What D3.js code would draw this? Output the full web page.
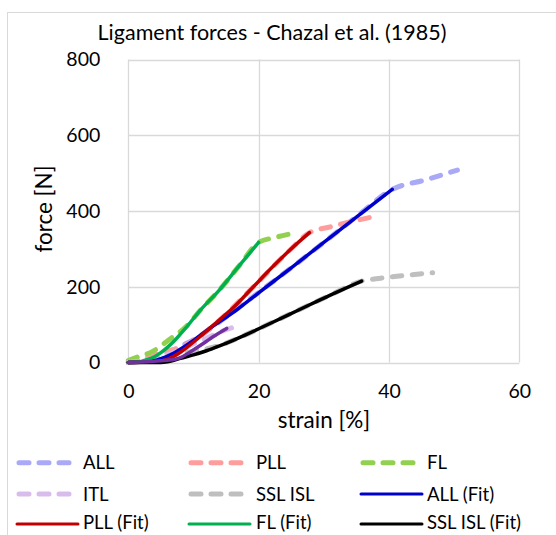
<!DOCTYPE html>
<html><head><meta charset="utf-8">
<script src="https://cdn.jsdelivr.net/npm/d3@7"></script>
<style>body{margin:0;background:#fff;}svg{display:block;font-family:Lato,"Open Sans",sans-serif;}</style>
</head><body>
<svg id="chart" width="556" height="535"></svg>
<script>
// ---- data ----
const title = "Ligament forces - Chazal et al. (1985)";
const xTicks = [0, 20, 40, 60];
const yTicks = [0, 200, 400, 600, 800];
const xLabel = "strain [%]";
const yLabel = "force [N]";

const ALL = [[0,0],[2,4],[4,12],[6,25],[8.4,46],[10,60],[15,120],[20,185],[25,250],[30,317],[35,385],[40.5,457],[45.8,483],[50.5,508]];
const PLL = [[0,0],[2,8],[4.4,22],[6,30],[8.4,43],[10,58],[14,112],[19.2,200],[24.8,297],[27.8,343],[31,358],[34,371],[37.6,385]];
const FL = [[0,5],[1.5,15],[3.6,28],[6.4,62],[9,97],[11,137],[14,192],[17,255],[20,317],[22.5,330],[24.7,339]];
const ITL = [[0,0],[3,6],[6,20],[8.5,37],[10.2,51],[12,64],[14,80],[16.7,96]];
const SSL_ISL = [[0,0],[3,6],[7.3,22],[11,33],[14,45],[16,58],[18,73],[22,105],[26.3,140],[31,178],[35.8,215],[38,221],[42,229],[46.7,237]];

const ALL_fit = [[0,0],[3,2],[5,10],[7,25],[9.5,52],[12,84],[16.7,140],[20,184],[25,250],[30,317],[35,384],[40.5,457]];
const PLL_fit = [[0,0],[4,1],[6,8],[8,27],[9,40],[11,68],[14,113],[16,143],[19.2,200],[22,250],[24.8,297],[27.8,343]];
const FL_fit = [[0,0],[1,1],[2,3],[3,8],[4,15],[5,26],[6,40],[7,56],[9,95],[11,137],[14,192],[17,255],[20,317]];
const SSL_ISL_fit = [[0,0],[5,0],[6,2],[7,6],[8,11],[10,20],[12,31],[14,44],[16,58],[18,73],[22,105],[26.3,140],[31,178],[35.8,215]];
const ITL_fit = [[0,0],[2,1],[4,3],[6,6],[7,8],[8,13],[9.5,28],[11.5,50],[13,68],[15.1,90]];

const series = [
  {name:"ALL", data:ALL, color:"#a9a9f7", dashed:true},
  {name:"PLL", data:PLL, color:"#ff9d9d", dashed:true},
  {name:"FL", data:FL, color:"#92d050", dashed:true},
  {name:"ITL", data:ITL, color:"#d8bdec", dashed:true},
  {name:"SSL ISL", data:SSL_ISL, color:"#bfbfbf", dashed:true},
  {name:"ALL (Fit)", data:ALL_fit, color:"#0000cc", dashed:false},
  {name:"PLL (Fit)", data:PLL_fit, color:"#c00000", dashed:false},
  {name:"FL (Fit)", data:FL_fit, color:"#00b050", dashed:false},
  {name:"SSL ISL (Fit)", data:SSL_ISL_fit, color:"#000000", dashed:false},
  {name:"ITL (Fit)", data:ITL_fit, color:"#7030a0", dashed:false}
];

// ---- layout ----
const svg = d3.select("#chart");
const x = d3.scaleLinear().domain([0,60]).range([128.3, 519.3]);
const y = d3.scaleLinear().domain([0,800]).range([362.5, 59.5]);
const grid = "#d9d9d9";

// outer frame
svg.append("rect").attr("x",7.5).attr("y",12.5).attr("width",600).attr("height",600)
  .attr("fill","#fff").attr("stroke",grid).attr("stroke-width",1);

// title
svg.append("text").attr("x",272).attr("y",39.5).attr("text-anchor","middle")
  .attr("font-size",21.5).attr("fill","#000").text(title);

// gridlines
svg.append("g").selectAll("line.h").data(yTicks).join("line")
  .attr("x1",x(0)).attr("x2",x(60)).attr("y1",d=>Math.round(y(d))+0.5).attr("y2",d=>Math.round(y(d))+0.5)
  .attr("stroke",grid).attr("stroke-width",1.3);
svg.append("g").selectAll("line.v").data(xTicks).join("line")
  .attr("y1",y(0)).attr("y2",y(800)).attr("x1",d=>Math.round(x(d))+0.5).attr("x2",d=>Math.round(x(d))+0.5)
  .attr("stroke",grid).attr("stroke-width",1.3);

// axes (labels only)
const xAxis = svg.append("g").attr("transform",`translate(0,${y(0)})`)
  .call(d3.axisBottom(x).tickValues(xTicks).tickSize(0).tickPadding(22));
xAxis.select(".domain").remove();
xAxis.selectAll("text").attr("font-size",19.5).attr("font-family","Lato").attr("fill","#000");
const yAxis = svg.append("g").attr("transform",`translate(${x(0)},0)`)
  .call(d3.axisLeft(y).tickValues(yTicks).tickSize(0).tickPadding(28));
yAxis.select(".domain").remove();
yAxis.selectAll("text").attr("font-size",19.5).attr("font-family","Lato").attr("fill","#000");

// axis titles
svg.append("text").attr("x",324).attr("y",427.5).attr("text-anchor","middle")
  .attr("font-size",22.5).text(xLabel);
svg.append("text").attr("transform","translate(52,209) rotate(-90)").attr("text-anchor","middle")
  .attr("font-size",22.5).text(yLabel);

// lines
const line = d3.line().x(d=>x(d[0])).y(d=>y(d[1])).curve(d3.curveMonotoneX);
const plot = svg.append("g");
series.forEach(s=>{
  plot.append("path").datum(s.data).attr("d",line).attr("fill","none")
    .attr("stroke",s.color)
    .attr("stroke-width",s.dashed?5:3.5)
    .attr("stroke-linecap","round").attr("stroke-linejoin","round")
    .attr("stroke-dasharray",s.dashed?"9.5,10.5":null);
});

// legend (the reference only shows the first three rows; the 4th row falls outside the frame)
const colX = [19, 191, 363];
const textX = [83, 256, 427];
const rowY = [462.7, 494, 524];
const leg = svg.append("g");
series.forEach((s,i)=>{
  const c = i%3, r = Math.floor(i/3);
  if (r >= rowY.length) return;
  const ly = rowY[r];
  if (s.dashed) {
    leg.append("line").attr("x1",colX[c]).attr("x2",colX[c]+52).attr("y1",ly).attr("y2",ly)
      .attr("stroke",s.color).attr("stroke-width",5).attr("stroke-linecap","round")
      .attr("stroke-dasharray","10,10");
  } else {
    leg.append("line").attr("x1",colX[c]-2).attr("x2",colX[c]+59).attr("y1",ly).attr("y2",ly)
      .attr("stroke",s.color).attr("stroke-width",3).attr("stroke-linecap","round");
  }
  leg.append("text").attr("x",textX[c]).attr("y",r===2?ly+5:ly+6.5).attr("font-size",18.5).text(s.name);
});
</script>
</body></html>
